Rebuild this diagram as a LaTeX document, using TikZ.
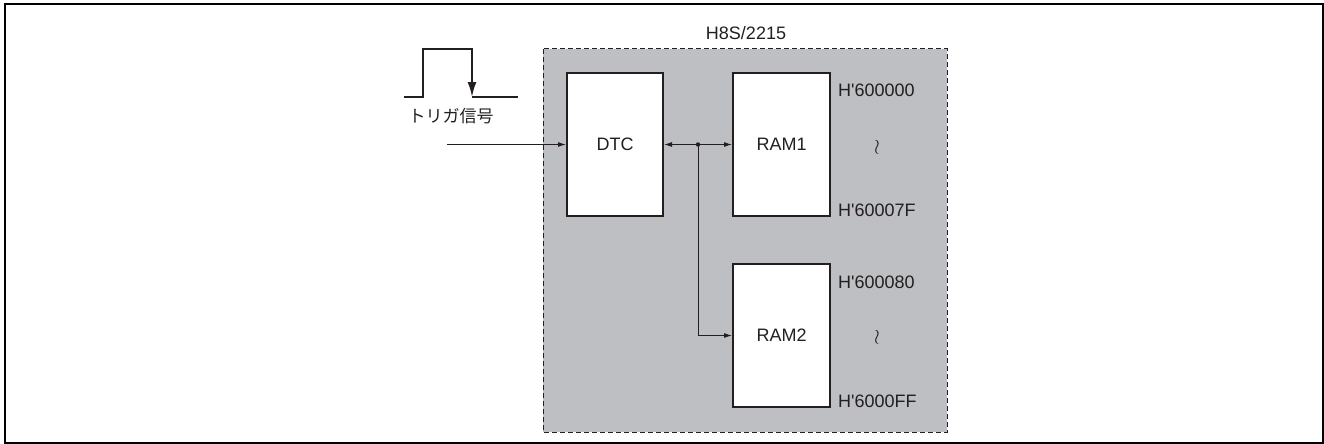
\documentclass[tikz,border=0pt]{standalone}
\usepackage{fontspec}
\setmainfont{Liberation Sans}
\newfontfamily\jpfont{Noto Sans CJK JP}
\usepackage{tikz}
\usetikzlibrary{arrows.meta,positioning}
\definecolor{chipgray}{RGB}{190,191,195}
\definecolor{inkgray}{RGB}{35,31,32}
\tikzset{
    chip area/.style={draw=inkgray, fill=chipgray, dashed, dash pattern=on 5pt off 3pt, line width=1pt},
    block/.style={rectangle, draw=inkgray, fill=white, line width=2pt, minimum width=96pt, minimum height=143pt, text=inkgray, font=\fontsize{18}{21}\selectfont},
    addr/.style={anchor=west, inner sep=0pt, text=inkgray, font=\fontsize{18}{21}\selectfont},
    gap/.style={inner sep=0pt, text=inkgray, font=\fontsize{22}{24}\selectfont},
    wire/.style={draw=inkgray, line width=1pt},
    >={Latex[length=8pt,width=5pt]}
}

\begin{document}
\begin{tikzpicture}[x=1pt, y=-1pt]
	\useasboundingbox (0,0) rectangle (1324,444);
	\draw[line width=2pt] (5,4) rectangle (1323,443);
	% chip
	\draw[chip area] (543,49) rectangle (947,432);
	\node[text=inkgray, font=\fontsize{18}{21}\selectfont] (chip) at (746,33) {H8S/2215};
	\node[block] (dtc) at (615,144.5) {DTC};
	\node[block, minimum width=97pt] (ram1) at (781.5,144.5) {RAM1};
	\node[block, minimum width=97pt] (ram2) at (781.5,335.5) {RAM2};
	% addresses
	\node[addr] (a1) at (838,90) {H\textquotesingle 600000};
	\node[gap] (w1) at (877,147) {$\wr$};
	\node[addr] (a2) at (838,210) {H\textquotesingle 60007F};
	\node[addr] (a3) at (838,282) {H\textquotesingle 600080};
	\node[gap] (w2) at (877,337) {$\wr$};
	\node[addr] (a4) at (838,401) {H\textquotesingle 6000FF};
	% bus
	\coordinate (bus) at (698,144.5);
	\draw[wire, <->] (dtc.east) -- (ram1.west);
	\fill[inkgray] (bus) circle (2.2pt);
	\draw[wire, ->] (bus) |- (ram2.west);
	% trigger
	\coordinate (trig) at (447,144.5);
	\draw[wire, ->] (trig) -- (dtc.west);
	\draw[inkgray, line width=2pt] (404,97) -- (423,97) -- (423,49) -- (472,49) -- (472,80);
	\draw[inkgray, line width=2pt] (472,97) -- (518,97);
	\draw[inkgray, line width=2pt, -{Latex[length=15pt,width=9pt]}] (472,70) -- (472,97);
	\node[text=inkgray, font=\jpfont\fontsize{17}{19}\selectfont] (tlabel) at (451,116) {トリガ信号};
\end{tikzpicture}
\end{document}
